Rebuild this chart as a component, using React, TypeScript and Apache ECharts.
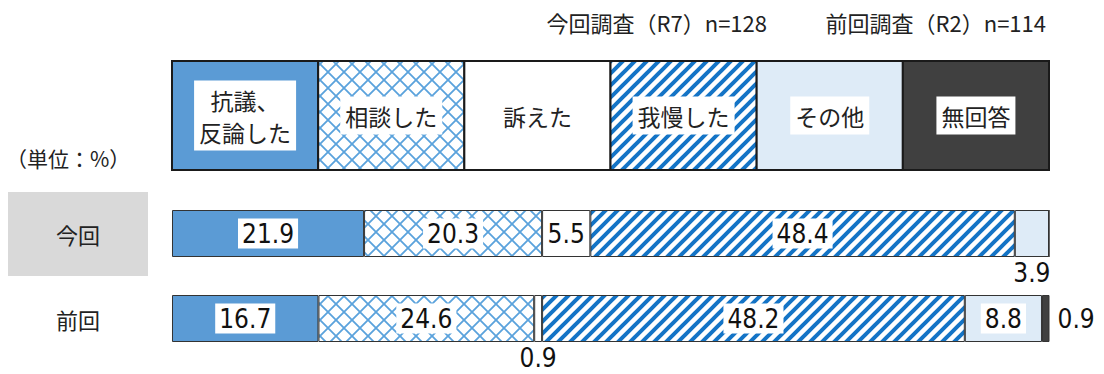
import React, { useEffect, useRef } from "react";
import * as echarts from "echarts";

// Answer categories (legend order = stacking order)
const categories = ["抗議、\n反論した", "相談した", "訴えた", "我慢した", "その他", "無回答"];
// Survey rounds (rows of the chart)
const rounds = ["今回", "前回"];
// Shares in % per category
const currentValues = [21.9, 20.3, 5.5, 48.4, 3.9, 0];
const previousValues = [16.7, 24.6, 0.9, 48.2, 8.8, 0.9];
const surveyTitles = ["今回調査（R7）n=128", "前回調査（R2）n=114"];
const unitLabel = "（単位：%）";

const CJK = "'Noto Sans CJK JP', 'Noto Sans', sans-serif";
const NUM = "'Liberation Sans Narrow', 'DejaVu Sans Condensed', 'Noto Sans', sans-serif";

function crossHatch() {
  const s = 16;
  const c = document.createElement("canvas");
  c.width = s;
  c.height = s;
  const g = c.getContext("2d")!;
  g.fillStyle = "#ffffff";
  g.fillRect(0, 0, s, s);
  g.strokeStyle = "#5aa2dc";
  g.lineWidth = 1.8;
  g.beginPath();
  g.moveTo(0, 0);
  g.lineTo(s, s);
  g.moveTo(s, 0);
  g.lineTo(0, s);
  g.stroke();
  return { image: c, repeat: "repeat", imageWidth: s, imageHeight: s };
}

function stripes() {
  const p = 12;
  const c = document.createElement("canvas");
  c.width = p;
  c.height = p;
  const g = c.getContext("2d")!;
  g.fillStyle = "#ffffff";
  g.fillRect(0, 0, p, p);
  g.strokeStyle = "#1474c6";
  g.lineWidth = 4;
  g.beginPath();
  for (const k of [0, p, 2 * p]) {
    g.moveTo(-2, k + 2);
    g.lineTo(k + 2, -2);
  }
  g.stroke();
  return { image: c, repeat: "repeat", imageWidth: p, imageHeight: p };
}

export default function App() {
  const ref = useRef<HTMLDivElement>(null);

  useEffect(() => {
    if (!ref.current) return;
    const chart = echarts.init(ref.current, undefined, { renderer: "svg" });

    const fills: any[] = ["#5b9bd5", crossHatch(), "#ffffff", stripes(), "#deebf7", "#404040"];

    const gridLeft = 172;
    const gridRight = 55;
    const width = 1104;
    const plotW = width - gridLeft - gridRight;
    const cellW = plotW / categories.length;

    const rowsData = [currentValues, previousValues];

    const series = categories.map((name, ci) => ({
      name,
      type: "bar",
      stack: "total",
      barWidth: 47,
      itemStyle: { color: fills[ci], borderColor: "#333", borderWidth: 1 },
      data: rowsData.map((row) => {
        const v = row[ci];
        const last = ci === categories.length - 1;
        const outside = v < 5;
        return {
          value: v,
          label: {
            show: v > 0,
            position: outside ? (last ? "right" : "bottom") : "inside",
            distance: outside ? (last ? 8 : 3) : 5,
            formatter: (p: any) => Number(p.value).toFixed(1),
            fontFamily: NUM,
            fontSize: 26,
            color: "#111",
            backgroundColor: outside ? "transparent" : "#ffffff",
            padding: outside ? 0 : [2, 4],
          },
        };
      }),
    }));

    const legendGraphics: any[] = [];
    categories.forEach((name, ci) => {
      const x = gridLeft + ci * cellW;
      legendGraphics.push({
        type: "rect",
        shape: { x, y: 61, width: cellW, height: 109 },
        style: { fill: fills[ci], stroke: "#1a1a1a", lineWidth: 2 },
      });
      legendGraphics.push({
        type: "text",
        x: x + cellW / 2,
        y: 115.5,
        style: {
          text: name,
          font: `23px ${CJK}`,
          fill: "#222",
          align: "center",
          verticalAlign: "middle",
          lineHeight: 32,
          backgroundColor: "#ffffff",
          padding: [3, 5],
        },
      });
    });

    chart.setOption({
      animation: false,
      grid: { left: gridLeft, right: gridRight, top: 191, height: 170 },
      xAxis: { type: "value", min: 0, max: 100, show: false },
      yAxis: {
        type: "category",
        data: rounds,
        inverse: true,
        z: 5,
        axisLine: { show: false },
        axisTick: { show: false },
        axisLabel: {
          align: "center",
          margin: gridLeft - 78,
          fontFamily: CJK,
          fontSize: 22,
          color: "#222",
        },
      },
      series,
      graphic: [
        {
          type: "rect",
          z: -1,
          shape: { x: 8, y: 192, width: 140, height: 84 },
          style: { fill: "#d9d9d9" },
        },
        {
          type: "text",
          x: 767,
          y: 22,
          style: {
            text: surveyTitles[0],
            font: `22px ${CJK}`,
            fill: "#222",
            align: "right",
            verticalAlign: "middle",
          },
        },
        {
          type: "text",
          x: 1046,
          y: 22,
          style: {
            text: surveyTitles[1],
            font: `22px ${CJK}`,
            fill: "#222",
            align: "right",
            verticalAlign: "middle",
          },
        },
        {
          type: "text",
          x: 6,
          y: 158,
          style: {
            text: unitLabel,
            font: `21px ${CJK}`,
            fill: "#222",
            align: "left",
            verticalAlign: "middle",
          },
        },
        ...legendGraphics,
      ],
    });

    return () => chart.dispose();
  }, []);

  return (
    <div
      ref={ref}
      style={{ position: "fixed", left: 0, top: 0, width: 1104, height: 374, background: "#fff" }}
    />
  );
}
